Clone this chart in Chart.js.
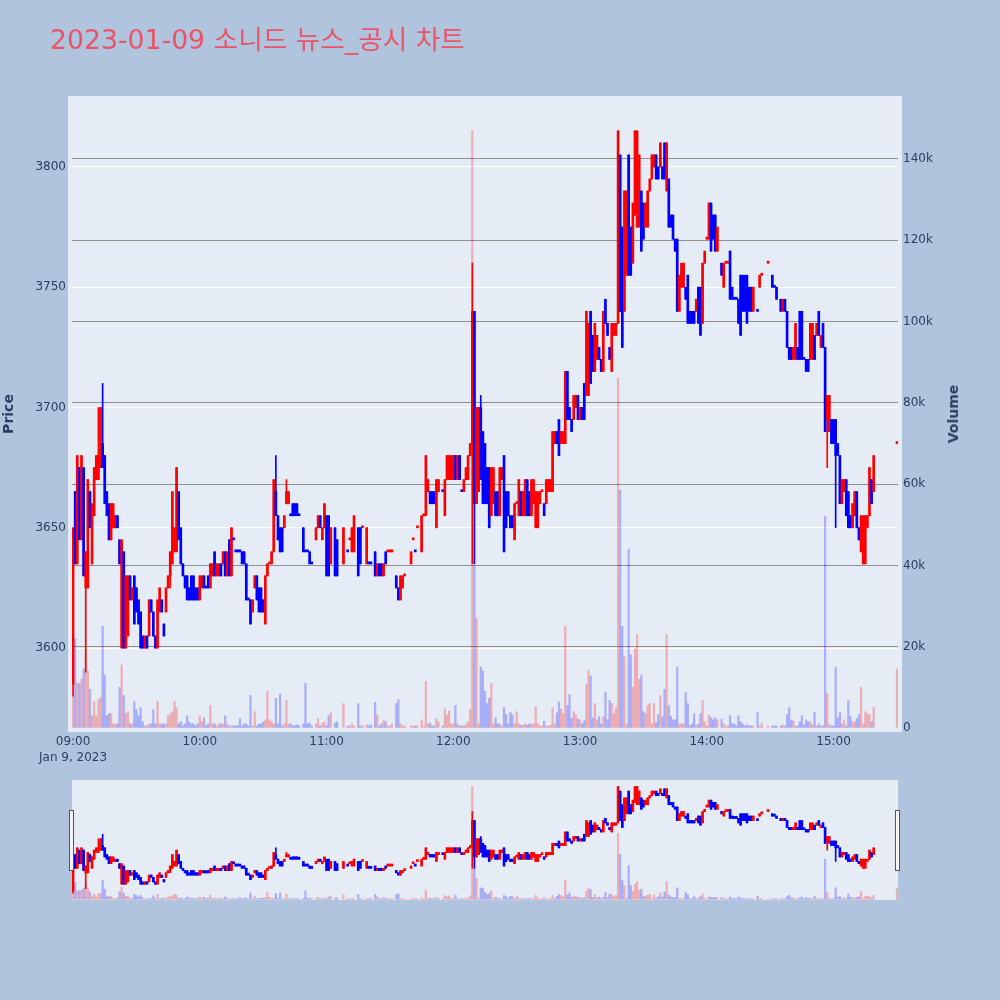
<!DOCTYPE html>
<html>
<head>
<meta charset="utf-8">
<script src="https://cdn.jsdelivr.net/npm/chart.js@4.4.1/dist/chart.umd.min.js"></script>
<style>
  body { margin: 0; background: #b0c4de; width: 1000px; height: 1000px; position: relative; overflow: hidden; }
  #main { position: absolute; left: 0; top: 0; }
  #slider { position: absolute; left: 0; top: 780px; }
  #title { position: absolute; left: 50px; top: 27px; font: 26.7px "DejaVu Sans", "Noto Sans CJK KR", sans-serif; line-height: 1; color: #ea5468; white-space: nowrap; }
  #volTitle { position: absolute; left: 953px; top: 414px; transform: translate(-50%, -50%) rotate(-90deg); font: bold 14px "DejaVu Sans", sans-serif; color: #2a3f5f; white-space: nowrap; }
</style>
</head>
<body>
<canvas id="main" width="1000" height="780"></canvas>
<canvas id="slider" width="1000" height="120"></canvas>
<div id="title">2023-01-09 소니드 뉴스_공시 차트</div>
<div id="volTitle">Volume</div>
<script>
// minutes after 09:00, one candle per traded minute
const minutes = [
  0, 1, 2, 3, 4, 5, 6, 7, 8, 9,
  10, 11, 12, 13, 14, 15, 16, 17, 18, 19,
  20, 21, 22, 23, 24, 25, 26, 27, 28, 29,
  30, 31, 32, 33, 34, 35, 36, 37, 38, 39,
  40, 41, 42, 43, 44, 45, 46, 47, 48, 49,
  50, 51, 52, 53, 54, 55, 56, 57, 58, 59,
  60, 61, 62, 63, 64, 65, 66, 67, 68, 69,
  70, 71, 72, 73, 74, 75, 76, 77, 78, 79,
  80, 81, 82, 83, 84, 85, 86, 87, 88, 89,
  90, 91, 92, 93, 94, 95, 96, 97, 98, 99,
  100, 101, 102, 103, 104, 105, 106, 107, 109, 110,
  111, 112, 113, 115, 116, 117, 118, 119, 120, 121,
  122, 124, 125, 128, 130, 131, 132, 133, 135, 136,
  137, 139, 140, 141, 143, 144, 145, 146, 147, 148,
  149, 150, 151, 153, 154, 155, 156, 157, 160, 161,
  162, 163, 165, 166, 167, 168, 169, 170, 171, 172,
  173, 175, 176, 177, 178, 179, 180, 181, 182, 183,
  184, 185, 186, 187, 188, 189, 190, 191, 192, 193,
  194, 195, 196, 197, 198, 199, 200, 201, 202, 203,
  204, 205, 206, 207, 208, 209, 210, 211, 212, 213,
  214, 215, 216, 217, 218, 219, 220, 221, 222, 223,
  224, 225, 226, 227, 228, 229, 230, 231, 232, 233,
  234, 235, 236, 237, 238, 239, 240, 241, 242, 243,
  244, 245, 246, 247, 248, 249, 250, 251, 252, 253,
  254, 255, 256, 257, 258, 259, 260, 261, 262, 263,
  264, 265, 266, 267, 268, 269, 270, 271, 272, 273,
  274, 275, 276, 277, 278, 279, 280, 281, 282, 283,
  284, 285, 286, 287, 288, 289, 290, 291, 292, 293,
  294, 295, 296, 297, 298, 299, 300, 301, 302, 303,
  304, 305, 307, 308, 309, 310, 311, 312, 313, 314,
  315, 316, 317, 318, 319, 320, 321, 322, 324, 325,
  326, 329, 331, 332, 333, 335, 336, 337, 338, 339,
  340, 341, 342, 343, 344, 345, 346, 347, 348, 349,
  350, 351, 352, 353, 354, 355, 356, 357, 358, 359,
  360, 361, 362, 363, 364, 365, 366, 367, 368, 369,
  370, 371, 372, 373, 374, 375, 376, 377, 378, 379,
  390
];

const opens = [
  3585, 3665, 3635, 3675, 3645, 3675, 3625, 3625, 3665, 3635,
  3655, 3670, 3670, 3675, 3685, 3680, 3665, 3660, 3645, 3650,
  3650, 3655, 3645, 3600, 3640, 3600, 3605, 3630, 3620, 3630,
  3625, 3620, 3615, 3605, 3600, 3605, 3605, 3620, 3615, 3605,
  3600, 3615, 3620, 3610, 3615, 3625, 3630, 3635, 3640, 3640,
  3665, 3650, 3635, 3630, 3630, 3625, 3630, 3630, 3625, 3625,
  3620, 3625, 3630, 3625, 3630, 3625, 3630, 3640, 3630, 3630,
  3635, 3635, 3640, 3630, 3645, 3630, 3645, 3640, 3640, 3640,
  3640, 3640, 3635, 3620, 3620, 3615, 3625, 3630, 3625, 3625,
  3620, 3610, 3630, 3635, 3635, 3640, 3665, 3655, 3650, 3650,
  3650, 3660, 3660, 3655, 3660, 3660, 3660, 3655, 3650, 3640,
  3640, 3640, 3635, 3645, 3650, 3655, 3645, 3650, 3655, 3655,
  3635, 3650, 3645, 3635, 3640, 3645, 3640, 3640, 3650, 3650,
  3650, 3635, 3635, 3635, 3640, 3630, 3635, 3635, 3630, 3640,
  3640, 3640, 3640, 3630, 3625, 3620, 3625, 3630, 3635, 3645,
  3640, 3650, 3640, 3655, 3655, 3665, 3665, 3665, 3665, 3650,
  3665, 3665, 3655, 3670, 3670, 3670, 3670, 3680, 3670, 3680,
  3665, 3665, 3670, 3670, 3680, 3685, 3740, 3660, 3665, 3700,
  3690, 3685, 3675, 3675, 3655, 3660, 3665, 3665, 3655, 3670,
  3680, 3665, 3665, 3655, 3655, 3645, 3660, 3655, 3665, 3655,
  3655, 3670, 3665, 3655, 3660, 3650, 3650, 3660, 3665, 3660,
  3660, 3665, 3665, 3665, 3685, 3690, 3695, 3685, 3685, 3685,
  3715, 3700, 3695, 3695, 3700, 3705, 3695, 3700, 3710, 3705,
  3705, 3740, 3730, 3715, 3720, 3725, 3720, 3715, 3745, 3735,
  3725, 3715, 3730, 3730, 3735, 3805, 3775, 3740, 3755, 3805,
  3775, 3760, 3780, 3775, 3775, 3790, 3785, 3775, 3775, 3790,
  3795, 3800, 3805, 3800, 3800, 3800, 3810, 3790, 3795, 3780,
  3780, 3770, 3770, 3740, 3750, 3750, 3750, 3755, 3740, 3740,
  3740, 3740, 3750, 3750, 3735, 3760, 3770, 3770, 3785, 3780,
  3780, 3765, 3760, 3750, 3760, 3760, 3765, 3750, 3745, 3745,
  3745, 3755, 3755, 3755, 3755, 3750, 3750, 3740, 3740, 3750,
  3755, 3760, 3755, 3750, 3750, 3745, 3740, 3745, 3740, 3725,
  3725, 3720, 3720, 3725, 3740, 3740, 3720, 3720, 3720, 3720,
  3720, 3730, 3730, 3740, 3725, 3735, 3725, 3695, 3690, 3695,
  3695, 3695, 3685, 3680, 3660, 3665, 3670, 3665, 3655, 3650,
  3655, 3665, 3650, 3640, 3635, 3635, 3650, 3655, 3670, 3665,
  3685
];

const highs = [
  3650, 3665, 3680, 3675, 3680, 3675, 3640, 3670, 3665, 3660,
  3675, 3680, 3700, 3700, 3710, 3680, 3665, 3660, 3660, 3660,
  3655, 3655, 3645, 3645, 3640, 3630, 3630, 3630, 3625, 3630,
  3625, 3620, 3615, 3605, 3605, 3605, 3620, 3620, 3615, 3605,
  3620, 3625, 3620, 3610, 3625, 3630, 3640, 3665, 3650, 3675,
  3665, 3650, 3635, 3630, 3630, 3625, 3630, 3630, 3625, 3625,
  3630, 3630, 3630, 3625, 3630, 3635, 3635, 3640, 3635, 3635,
  3635, 3640, 3640, 3640, 3645, 3650, 3645, 3640, 3640, 3640,
  3640, 3640, 3635, 3620, 3620, 3620, 3630, 3630, 3625, 3625,
  3620, 3630, 3635, 3635, 3640, 3670, 3680, 3655, 3650, 3650,
  3655, 3670, 3665, 3655, 3660, 3660, 3660, 3655, 3650, 3640,
  3640, 3640, 3635, 3650, 3655, 3655, 3650, 3660, 3655, 3655,
  3650, 3650, 3645, 3650, 3640, 3645, 3650, 3655, 3650, 3650,
  3650, 3650, 3635, 3635, 3640, 3635, 3635, 3635, 3635, 3640,
  3640, 3640, 3640, 3630, 3625, 3630, 3630, 3630, 3640, 3645,
  3640, 3650, 3655, 3655, 3680, 3670, 3665, 3665, 3665, 3670,
  3670, 3665, 3670, 3680, 3680, 3680, 3680, 3680, 3680, 3680,
  3665, 3670, 3675, 3680, 3685, 3760, 3740, 3700, 3700, 3705,
  3690, 3685, 3675, 3675, 3675, 3675, 3665, 3665, 3675, 3675,
  3680, 3665, 3665, 3655, 3655, 3660, 3660, 3670, 3665, 3665,
  3670, 3670, 3665, 3670, 3670, 3665, 3665, 3665, 3665, 3660,
  3670, 3670, 3670, 3690, 3690, 3690, 3695, 3690, 3690, 3715,
  3715, 3700, 3695, 3705, 3705, 3705, 3700, 3700, 3710, 3740,
  3735, 3740, 3730, 3735, 3730, 3725, 3720, 3740, 3745, 3735,
  3725, 3735, 3735, 3735, 3815, 3805, 3775, 3790, 3790, 3805,
  3775, 3785, 3815, 3815, 3805, 3790, 3785, 3785, 3790, 3795,
  3805, 3805, 3805, 3800, 3810, 3800, 3810, 3810, 3795, 3780,
  3780, 3770, 3770, 3755, 3760, 3760, 3750, 3755, 3740, 3740,
  3740, 3745, 3750, 3750, 3760, 3765, 3770, 3785, 3785, 3780,
  3780, 3775, 3760, 3760, 3760, 3760, 3765, 3750, 3745, 3745,
  3745, 3755, 3755, 3755, 3755, 3750, 3750, 3750, 3740, 3755,
  3755, 3760, 3755, 3750, 3750, 3745, 3745, 3745, 3740, 3725,
  3725, 3725, 3735, 3725, 3740, 3740, 3720, 3720, 3720, 3735,
  3735, 3730, 3735, 3740, 3730, 3735, 3725, 3705, 3705, 3695,
  3695, 3695, 3685, 3680, 3670, 3670, 3670, 3665, 3655, 3660,
  3665, 3665, 3650, 3655, 3655, 3655, 3655, 3675, 3670, 3680,
  3685
];

const lows = [
  3580, 3635, 3635, 3645, 3645, 3630, 3590, 3625, 3650, 3635,
  3655, 3670, 3670, 3675, 3675, 3660, 3655, 3645, 3645, 3650,
  3650, 3650, 3635, 3600, 3600, 3600, 3605, 3620, 3620, 3610,
  3615, 3610, 3600, 3600, 3600, 3600, 3605, 3615, 3605, 3600,
  3600, 3615, 3615, 3605, 3615, 3625, 3625, 3635, 3640, 3640,
  3645, 3635, 3630, 3625, 3620, 3620, 3620, 3620, 3620, 3620,
  3620, 3625, 3625, 3625, 3625, 3625, 3630, 3630, 3630, 3630,
  3630, 3635, 3630, 3630, 3630, 3630, 3645, 3640, 3640, 3640,
  3635, 3635, 3620, 3620, 3610, 3615, 3625, 3620, 3615, 3615,
  3615, 3610, 3630, 3635, 3635, 3640, 3655, 3645, 3640, 3640,
  3650, 3660, 3660, 3655, 3655, 3655, 3655, 3655, 3640, 3640,
  3640, 3635, 3635, 3645, 3650, 3650, 3645, 3650, 3630, 3630,
  3635, 3630, 3630, 3635, 3640, 3645, 3640, 3640, 3630, 3635,
  3650, 3635, 3635, 3635, 3630, 3630, 3630, 3630, 3630, 3635,
  3640, 3640, 3640, 3625, 3620, 3620, 3625, 3630, 3635, 3645,
  3640, 3650, 3640, 3655, 3655, 3665, 3660, 3660, 3660, 3650,
  3665, 3665, 3655, 3670, 3670, 3670, 3670, 3670, 3670, 3670,
  3665, 3665, 3670, 3670, 3680, 3635, 3635, 3660, 3665, 3670,
  3660, 3660, 3660, 3650, 3655, 3660, 3655, 3655, 3655, 3670,
  3640, 3650, 3655, 3650, 3650, 3645, 3660, 3655, 3655, 3655,
  3655, 3655, 3655, 3655, 3660, 3650, 3650, 3660, 3665, 3655,
  3660, 3665, 3665, 3665, 3685, 3685, 3680, 3685, 3685, 3685,
  3695, 3695, 3690, 3695, 3700, 3695, 3695, 3695, 3695, 3705,
  3705, 3710, 3715, 3715, 3720, 3720, 3715, 3715, 3735, 3730,
  3720, 3715, 3730, 3730, 3735, 3740, 3725, 3740, 3755, 3755,
  3755, 3760, 3780, 3775, 3775, 3765, 3770, 3775, 3775, 3790,
  3795, 3800, 3795, 3795, 3800, 3795, 3795, 3790, 3775, 3775,
  3770, 3765, 3740, 3740, 3750, 3750, 3745, 3735, 3735, 3735,
  3735, 3740, 3735, 3730, 3735, 3760, 3770, 3770, 3765, 3770,
  3765, 3765, 3755, 3750, 3760, 3760, 3745, 3745, 3745, 3745,
  3735, 3730, 3740, 3740, 3735, 3740, 3740, 3740, 3740, 3750,
  3755, 3760, 3750, 3750, 3745, 3740, 3740, 3740, 3725, 3720,
  3720, 3720, 3720, 3720, 3720, 3720, 3720, 3715, 3715, 3720,
  3720, 3720, 3730, 3730, 3725, 3725, 3690, 3675, 3690, 3685,
  3685, 3650, 3680, 3660, 3660, 3665, 3655, 3650, 3650, 3650,
  3655, 3650, 3645, 3640, 3635, 3635, 3650, 3655, 3660, 3665,
  3685
];

const closes = [
  3650, 3635, 3680, 3645, 3680, 3630, 3640, 3670, 3650, 3660,
  3675, 3680, 3680, 3700, 3675, 3660, 3655, 3645, 3660, 3660,
  3655, 3650, 3635, 3645, 3600, 3630, 3630, 3620, 3625, 3610,
  3615, 3610, 3600, 3600, 3605, 3600, 3620, 3615, 3605, 3600,
  3620, 3625, 3615, 3605, 3625, 3630, 3640, 3665, 3650, 3675,
  3645, 3635, 3630, 3625, 3620, 3620, 3620, 3620, 3620, 3620,
  3630, 3630, 3625, 3625, 3625, 3635, 3635, 3630, 3635, 3635,
  3630, 3640, 3630, 3640, 3630, 3650, 3645, 3640, 3640, 3640,
  3635, 3635, 3620, 3620, 3610, 3620, 3630, 3620, 3615, 3615,
  3615, 3630, 3635, 3635, 3640, 3670, 3655, 3645, 3640, 3640,
  3655, 3665, 3665, 3655, 3655, 3655, 3655, 3655, 3640, 3640,
  3640, 3635, 3635, 3650, 3655, 3650, 3650, 3660, 3630, 3630,
  3650, 3630, 3630, 3650, 3640, 3645, 3650, 3655, 3630, 3635,
  3650, 3650, 3635, 3635, 3630, 3635, 3630, 3630, 3635, 3635,
  3640, 3640, 3640, 3625, 3620, 3630, 3630, 3630, 3640, 3645,
  3640, 3650, 3655, 3655, 3680, 3670, 3660, 3660, 3660, 3670,
  3670, 3665, 3670, 3680, 3680, 3680, 3680, 3670, 3680, 3670,
  3665, 3670, 3675, 3680, 3685, 3740, 3660, 3700, 3700, 3670,
  3660, 3660, 3660, 3650, 3675, 3675, 3655, 3655, 3675, 3675,
  3640, 3650, 3655, 3650, 3650, 3660, 3660, 3670, 3655, 3665,
  3670, 3655, 3655, 3670, 3670, 3665, 3665, 3665, 3665, 3655,
  3670, 3670, 3670, 3690, 3690, 3685, 3680, 3690, 3690, 3715,
  3695, 3695, 3690, 3705, 3705, 3695, 3700, 3695, 3695, 3740,
  3735, 3710, 3715, 3735, 3730, 3720, 3715, 3740, 3735, 3730,
  3720, 3735, 3735, 3735, 3815, 3740, 3725, 3790, 3790, 3755,
  3755, 3785, 3815, 3815, 3805, 3765, 3770, 3785, 3790, 3795,
  3805, 3805, 3795, 3795, 3810, 3795, 3795, 3810, 3775, 3775,
  3770, 3765, 3740, 3755, 3760, 3760, 3745, 3735, 3735, 3735,
  3735, 3745, 3735, 3730, 3760, 3765, 3770, 3785, 3765, 3770,
  3765, 3775, 3755, 3760, 3760, 3760, 3745, 3745, 3745, 3745,
  3735, 3730, 3740, 3740, 3735, 3740, 3740, 3750, 3740, 3755,
  3755, 3760, 3750, 3750, 3745, 3740, 3745, 3740, 3725, 3720,
  3720, 3725, 3735, 3720, 3720, 3720, 3720, 3715, 3715, 3735,
  3735, 3720, 3735, 3730, 3730, 3725, 3690, 3705, 3705, 3685,
  3685, 3680, 3680, 3660, 3670, 3670, 3655, 3650, 3650, 3660,
  3665, 3650, 3645, 3655, 3655, 3655, 3655, 3675, 3660, 3680,
  3685
];

// volume in thousands of shares
const volumeK = [
  8, 22, 11, 11, 12, 14.5, 19, 14, 9.5, 3,
  6.5, 3, 7, 7.5, 25, 13, 3, 3.5, 3.5, 1,
  1, 1, 10, 15.5, 8, 3.5, 4, 1, 1, 6.5,
  4.5, 3, 5, 1.5, 0.5, 0.5, 1, 1, 4.5, 1,
  6.5, 1, 1, 1, 1, 3, 3.5, 4, 6.5, 5,
  1, 1.5, 0.5, 1, 3, 1.5, 1, 1, 0.5, 1,
  3, 1.5, 2.5, 0.5, 1, 5.5, 1, 1, 0.5, 1,
  1, 1, 3, 1, 0.5, 0.5, 0.5, 0.5, 0.5, 2.3,
  0.5, 1, 1, 0.5, 8, 0.5, 4, 0.5, 1, 1,
  1.5, 2, 9, 2, 1.5, 1, 7.3, 1, 8.3, 0.5,
  1, 6.8, 1, 1, 0.5, 0.5, 0.8, 0.5, 1, 11,
  1, 1.2, 0.5, 1, 2.3, 0.5, 1.2, 1.5, 0.5, 3,
  3.8, 1.2, 1.5, 6, 0.5, 0.5, 1, 0.5, 6, 0.5,
  0.5, 0.8, 0.5, 0.8, 6.3, 3.2, 0.5, 1, 1.8, 1.5,
  0.5, 0.5, 1, 6, 7, 1, 0.5, 0.5, 0.5, 0.5,
  0.5, 0.5, 2, 0.5, 11.4, 1, 1.2, 0.5, 0.5, 2.3,
  1.5, 0.5, 4.7, 3.2, 4.2, 1, 1, 5.5, 1, 0.5,
  0.5, 0.5, 0.8, 1.5, 4.5, 147, 40, 27, 1, 15,
  14, 9, 6, 7.3, 11, 1, 2.5, 1, 1, 0.5,
  5, 3.3, 1, 3.8, 3.2, 1, 4, 1, 0.7, 0.7,
  1, 0.7, 1, 1, 1, 5.2, 1, 0.5, 0.5, 1.7,
  0.5, 0.5, 0.7, 5, 1, 3.7, 6.4, 4.7, 3.5, 25,
  5.5, 8.2, 2.3, 4, 3.2, 2.2, 2, 1, 1.8, 10.8,
  14.2, 12.8, 2.5, 6, 2, 2.8, 1, 2.8, 8.8, 2,
  6.8, 6, 3.5, 5, 86, 58.5, 25, 17.5, 1, 44,
  18, 10, 19.5, 23, 12, 13, 4, 3.5, 5.5, 6,
  1, 6, 1.3, 3.3, 8, 2.7, 9.5, 23, 5.5, 2.8,
  2, 2, 15, 1, 1, 1, 8.7, 6, 0.5, 1,
  3.5, 0.7, 1, 3.5, 6.7, 1.5, 0.5, 3.2, 2.5, 2,
  2.5, 2, 2.2, 1, 0.5, 0.5, 3, 1, 1, 0.5,
  3, 1.5, 1, 0.5, 0.8, 0.5, 0.5, 0.5, 3.8, 0.5,
  1.2, 0.5, 0.5, 0.5, 0.5, 0.5, 0.7, 0.5, 3.3, 5,
  1.9, 1.7, 0.5, 0.5, 1.5, 3, 0.8, 2, 1.5, 1.5,
  0.8, 3.8, 0.5, 1, 0.5, 0.5, 52, 8.5, 0.8, 0.5,
  0.5, 15, 2.5, 3.8, 1, 2, 0.5, 6.7, 2.8, 1.5,
  1.5, 2.3, 3.2, 10, 1, 4, 3.5, 3.3, 1.5, 5,
  14.5
];

const tickMinutes = [0, 60, 120, 180, 240, 300, 360];
const tickLabels = ['09:00', '10:00', '11:00', '12:00', '13:00', '14:00', '15:00'];
const dateLabel = 'Jan 9, 2023';
const priceTicks = [3600, 3650, 3700, 3750, 3800];
const volumeTicks = [0, 20, 40, 60, 80, 100, 120, 140];

const textColor = '#2a3f5f';
const tickFont = { family: 'DejaVu Sans', size: 12 };

// plotly rule: flat candles take their direction from the previous close
const rising = [];
closes.forEach(function (c, i) {
    const o = opens[i];
    const prev = i > 0 ? closes[i - 1] : c;
    let up;
    if (c !== o) up = c > o;
    else if (c !== prev) up = c > prev;
    else up = i > 0 ? rising[i - 1] : true;
    rising.push(up);
});
const candleColors = rising.map(up => up ? '#ff0000' : '#0000ff');
const volumeColors = rising.map(up => up ? 'rgba(255, 0, 0, 0.26)' : 'rgba(0, 0, 255, 0.26)');

function makeDatasets() {
    return [
        {
            // candle bodies
            data: minutes.map((m, i) => ({ x: m, y: [opens[i], closes[i]] })),
            backgroundColor: candleColors,
            barThickness: 2,
            minBarLength: 2,
            grouped: false,
            yAxisID: 'y',
            order: 1
        },
        {
            // wicks
            data: minutes.map((m, i) => ({ x: m, y: [lows[i], highs[i]] })),
            backgroundColor: candleColors,
            barThickness: 1,
            grouped: false,
            yAxisID: 'y',
            order: 2
        },
        {
            // volume
            data: minutes.map((m, i) => ({ x: m, y: volumeK[i] })),
            backgroundColor: volumeColors,
            barThickness: 1.6,
            grouped: false,
            yAxisID: 'y1',
            order: 3
        }
    ];
}

const plotBg = {
    id: 'plotBg',
    beforeDraw(chart, args, opts) {
        const { ctx, chartArea: a } = chart;
        ctx.save();
        ctx.fillStyle = opts.color;
        ctx.fillRect(a.left - opts.extend, a.top, a.width + opts.extend * 2, a.bottom - a.top);
        ctx.restore();
    }
};

// range slider grab handles
const grabbers = {
    id: 'grabbers',
    afterDraw(chart) {
        const { ctx, chartArea: a } = chart;
        ctx.save();
        ctx.fillStyle = '#f4f4f4';
        ctx.strokeStyle = '#555';
        ctx.lineWidth = 1;
        [a.left - 2.5, a.right - 2.5].forEach(x => {
            ctx.fillRect(x, 30.5, 4, 60);
            ctx.strokeRect(x, 30.5, 4, 60);
        });
        ctx.restore();
    }
};

const xRange = { min: -0.5, max: 390.5 };
const priceRange = { min: 3565.1, max: 3829.5 };
const volumeRange = { min: -1, max: 155.5 };

new Chart(document.getElementById('main'), {
    type: 'bar',
    data: { datasets: makeDatasets() },
    plugins: [plotBg],
    options: {
        responsive: false,
        animation: false,
        devicePixelRatio: 1,
        layout: { padding: { top: 96, left: 0, right: 0, bottom: 0 } },
        plugins: {
            legend: { display: false },
            tooltip: { enabled: false },
            plotBg: { color: '#e5ecf6', extend: 4 }
        },
        scales: {
            x: {
                type: 'linear',
                min: xRange.min,
                max: xRange.max,
                offset: false,
                grid: { display: false, drawTicks: false },
                border: { display: false },
                afterBuildTicks: s => { s.ticks = tickMinutes.map(v => ({ value: v })); },
                afterFit: s => { s.height = 48; },
                ticks: {
                    autoSkip: false,
                    maxRotation: 0,
                    padding: 2,
                    color: textColor,
                    font: { family: 'DejaVu Sans', size: 12, lineHeight: 1.3 },
                    callback: (v, i) => i === 0 ? [tickLabels[i], dateLabel] : tickLabels[i]
                }
            },
            y: {
                position: 'left',
                min: priceRange.min,
                max: priceRange.max,
                grid: { color: '#ffffff', lineWidth: 1, drawTicks: false },
                border: { display: false },
                afterBuildTicks: s => { s.ticks = priceTicks.map(v => ({ value: v })); },
                afterFit: s => { s.width = 72; },
                ticks: { padding: 6, color: textColor, font: tickFont, callback: v => String(v) },
                title: {
                    display: true,
                    text: 'Price',
                    color: textColor,
                    font: { family: 'DejaVu Sans', size: 14, weight: 'bold' },
                    padding: { top: 1, bottom: 0 }
                }
            },
            y1: {
                position: 'right',
                min: volumeRange.min,
                max: volumeRange.max,
                grid: {
                    color: c => c.tick && c.tick.value === 0 ? 'rgba(0,0,0,0)' : '#8f8f8f',
                    lineWidth: 1,
                    drawTicks: false
                },
                border: { display: false },
                afterBuildTicks: s => { s.ticks = volumeTicks.map(v => ({ value: v })); },
                afterFit: s => { s.width = 102; },
                ticks: { padding: 5, color: textColor, font: tickFont, callback: v => v === 0 ? '0' : v + 'k' }
            }
        }
    }
});

new Chart(document.getElementById('slider'), {
    type: 'bar',
    data: { datasets: makeDatasets() },
    plugins: [plotBg, grabbers],
    options: {
        responsive: false,
        animation: false,
        devicePixelRatio: 1,
        layout: { padding: { top: 0, left: 72, right: 102, bottom: 0 } },
        plugins: {
            legend: { display: false },
            tooltip: { enabled: false },
            plotBg: { color: '#e5ecf6', extend: 0 }
        },
        scales: {
            x: { type: 'linear', display: false, offset: false, min: xRange.min, max: xRange.max },
            y: { display: false, min: priceRange.min, max: priceRange.max },
            y1: { display: false, min: volumeRange.min, max: volumeRange.max }
        }
    }
});
</script>
</body>
</html>
